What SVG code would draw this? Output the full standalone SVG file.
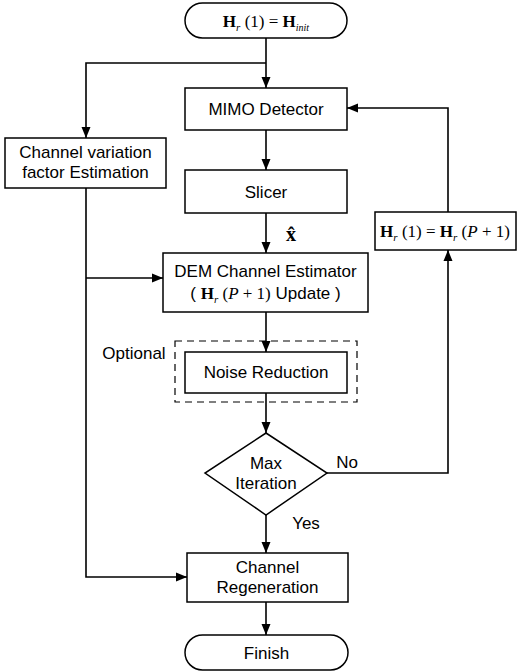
<svg xmlns="http://www.w3.org/2000/svg" width="519" height="672" viewBox="0 0 519 672">
<defs>
<marker id="arr" markerUnits="userSpaceOnUse" markerWidth="12" markerHeight="10" refX="11" refY="5" orient="auto">
<path d="M0,0.5 L11,5 L0,9.5 z" fill="#000"/>
</marker>
<style>
.box{fill:#fff;stroke:#000;stroke-width:1.5}
.dash{fill:none;stroke:#000;stroke-width:1.2;stroke-dasharray:7,5}
.t{font-family:"Liberation Sans",Arial,sans-serif;font-size:17px;fill:#000;text-anchor:middle}
.m{font-family:"Liberation Serif","Times New Roman",serif;font-size:17px;fill:#000;text-anchor:middle}
.b{font-weight:bold}
.i{font-style:italic}
.c{fill:none;stroke:#000;stroke-width:1.6}
</style>
</defs>
<rect width="519" height="672" fill="#fff"/>
<g id="connectors">
<polyline class="c" points="266,38 266,88" marker-end="url(#arr)"/>
<polyline class="c" points="266,63 86,63 86,138" marker-end="url(#arr)"/>
<polyline class="c" points="266,130 266,170" marker-end="url(#arr)"/>
<polyline class="c" points="266,213 266,253" marker-end="url(#arr)"/>
<polyline class="c" points="86,188 86,577 187,577" marker-end="url(#arr)"/>
<polyline class="c" points="86,278 163,278" marker-end="url(#arr)"/>
<polyline class="c" points="266,312 266,352" marker-end="url(#arr)"/>
<polyline class="c" points="266,393 266,433" marker-end="url(#arr)"/>
<polyline class="c" points="327,473 448,473 448,250" marker-end="url(#arr)"/>
<polyline class="c" points="448,212 448,108 347,108" marker-end="url(#arr)"/>
<polyline class="c" points="266,515 266,553" marker-end="url(#arr)"/>
<polyline class="c" points="266,602 266,635" marker-end="url(#arr)"/>
<text class="m b" x="291" y="241" style="font-size:20px">x̂</text>
<text class="t" x="347" y="468">No</text>
<text class="t" x="306" y="529">Yes</text>
</g>
<g id="start">
<rect class="box" x="185" y="3" width="162" height="35" rx="17.5"/>
<text class="m" x="266" y="27"><tspan class="b">H</tspan><tspan class="i" font-size="11" dy="4">r</tspan><tspan dy="-4"> (1) = </tspan><tspan class="b">H</tspan><tspan class="i" font-size="10" dy="4">init</tspan></text>
</g>
<g id="channel-variation">
<rect class="box" x="5" y="138" width="161" height="50"/>
<text class="t" x="85.5" y="158">Channel variation</text>
<text class="t" x="85.5" y="178">factor Estimation</text>
</g>
<g id="mimo">
<rect class="box" x="185" y="88" width="162" height="42"/>
<text class="t" x="266" y="115">MIMO Detector</text>
</g>
<g id="slicer">
<rect class="box" x="185" y="170" width="162" height="43"/>
<text class="t" x="266" y="198">Slicer</text>
</g>
<g id="hr-update">
<rect class="box" x="375" y="212" width="141" height="38"/>
<text class="m" x="445" y="237"><tspan class="b">H</tspan><tspan class="i" font-size="11" dy="4">r</tspan><tspan dy="-4"> (1) = </tspan><tspan class="b">H</tspan><tspan class="i" font-size="11" dy="4">r</tspan><tspan dy="-4"> (</tspan><tspan class="i">P</tspan><tspan> + 1)</tspan></text>
</g>
<g id="dem">
<rect class="box" x="163" y="253" width="205" height="59"/>
<text class="t" x="265.5" y="277">DEM Channel Estimator</text>
<text class="t" x="265.5" y="299">( <tspan font-family="Liberation Serif,serif" font-weight="bold">H</tspan><tspan font-family="Liberation Serif,serif" font-style="italic" font-size="11" dy="4">r</tspan><tspan font-family="Liberation Serif,serif" dy="-4"> (</tspan><tspan font-family="Liberation Serif,serif" font-style="italic">P</tspan><tspan font-family="Liberation Serif,serif"> + 1)</tspan> Update )</text>
</g>
<g id="optional">
<rect class="dash" x="175" y="341" width="182" height="61"/>
<text class="t" x="134" y="359">Optional</text>
</g>
<g id="noise">
<rect class="box" x="185" y="352" width="162" height="41"/>
<text class="t" x="266" y="378">Noise Reduction</text>
</g>
<g id="max-iteration">
<polygon class="box" points="266,433 327,473 266,515 205,473"/>
<text class="t" x="266" y="469">Max</text>
<text class="t" x="266" y="489">Iteration</text>
</g>
<g id="regen">
<rect class="box" x="187" y="553" width="161" height="49"/>
<text class="t" x="267.5" y="573">Channel</text>
<text class="t" x="267.5" y="593">Regeneration</text>
</g>
<g id="finish">
<rect class="box" x="185" y="635" width="163" height="35" rx="17.5"/>
<text class="t" x="266.5" y="659">Finish</text>
</g>
</svg>
